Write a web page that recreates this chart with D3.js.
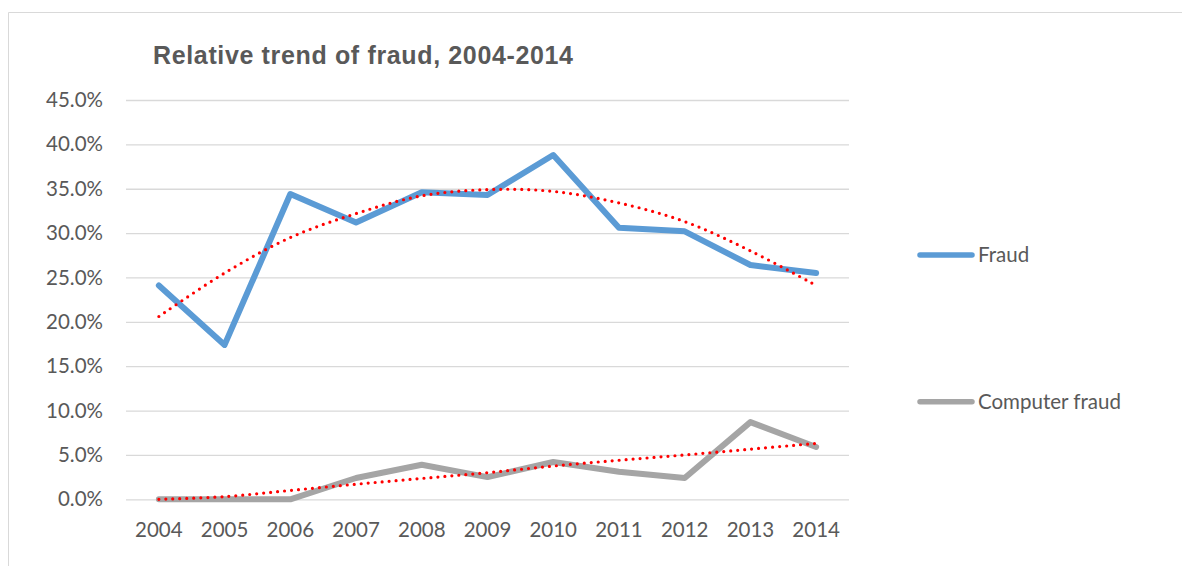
<!DOCTYPE html>
<html>
<head>
<meta charset="utf-8">
<script src="https://cdn.jsdelivr.net/npm/d3@7"></script>
<style>
  body { margin: 0; background: #fff; }
  svg { display: block; }
</style>
</head>
<body>
<div id="chart"></div>
<script>
var years = ["2004", "2005", "2006", "2007", "2008", "2009", "2010", "2011", "2012", "2013", "2014"];
var fraud = [24.1, 17.4, 34.4, 31.2, 34.6, 34.3, 38.8, 30.6, 30.2, 26.4, 25.5];
var computerFraud = [0, 0, 0, 2.4, 3.9, 2.5, 4.2, 3.1, 2.4, 8.7, 5.9];
// dotted trend lines at each year
var fraudTrend = [20.6, 25.5, 29.5, 32.2, 34.2, 34.9, 34.7, 33.4, 31.3, 28.0, 24.1];
var computerTrend = [0.0, 0.3, 1.0, 1.7, 2.35, 3.0, 3.75, 4.4, 5.0, 5.65, 6.3];
var yTicks = [0, 5, 10, 15, 20, 25, 30, 35, 40, 45];
var seriesNames = ["Fraud", "Computer fraud"];

var W = 1182, H = 566;
var labelFont = "Lato, 'Open Sans', sans-serif";

var svg = d3.select("#chart").append("svg").attr("width", W).attr("height", H);

// chart frame (runs off the right and bottom of the shot)
svg.append("path")
    .attr("d", "M8.5," + H + "V12.5H" + W)
    .attr("fill", "none")
    .attr("stroke", "#d9d9d9")
    .attr("stroke-width", 1);

svg.append("text")
    .attr("x", 153)
    .attr("y", 64)
    .attr("font-family", "'Liberation Sans', Arial, sans-serif")
    .attr("font-weight", "bold")
    .attr("font-size", 25)
    .attr("textLength", 420)
    .attr("lengthAdjust", "spacing")
    .attr("fill", "#595959")
    .text("Relative trend of fraud, 2004-2014");

var x = d3.scaleBand().domain(years).range([126, 849]).padding(0);
var y = d3.scaleLinear().domain([0, 45]).range([499.3, 100]);
var cx = function (d, i) { return x(years[i]) + x.bandwidth() / 2; };

// gridlines + y labels
var yAxis = svg.append("g")
    .attr("transform", "translate(126,0)")
    .call(d3.axisLeft(y).tickValues(yTicks).tickSize(-723).tickPadding(23)
        .tickFormat(function (d) { return d.toFixed(1) + "%"; }));
yAxis.select(".domain").remove();
yAxis.selectAll(".tick line").attr("stroke", "#d9d9d9").attr("stroke-width", 1.3);
yAxis.selectAll(".tick text")
    .attr("font-family", labelFont)
    .attr("font-size", 20.5)
    .attr("fill", "#595959");

// x labels
var xAxis = svg.append("g")
    .attr("transform", "translate(0,499.3)")
    .call(d3.axisBottom(x).tickSize(0).tickPadding(23));
xAxis.select(".domain").remove();
xAxis.selectAll(".tick text")
    .attr("font-family", labelFont)
    .attr("font-size", 20.5)
    .attr("fill", "#595959");

var line = d3.line().x(cx).y(function (d) { return y(d); });
var trendLine = d3.line().x(cx).y(function (d) { return y(d); }).curve(d3.curveCatmullRom);

var colors = ["#5b9bd5", "#a5a5a5"];
[fraud, computerFraud].forEach(function (s, k) {
    svg.append("path")
        .attr("d", line(s))
        .attr("fill", "none")
        .attr("stroke", colors[k])
        .attr("stroke-width", 6)
        .attr("stroke-linejoin", "round")
        .attr("stroke-linecap", "round");
});

[fraudTrend, computerTrend].forEach(function (s) {
    svg.append("path")
        .attr("d", trendLine(s))
        .attr("fill", "none")
        .attr("stroke", "#ff0000")
        .attr("stroke-width", 3.2)
        .attr("stroke-linecap", "round")
        .attr("stroke-dasharray", "0,7");
});

// legend
var legendY = [255, 401.7];
var legend = svg.selectAll(".legend").data(seriesNames).enter().append("g")
    .attr("transform", function (d, i) { return "translate(0," + legendY[i] + ")"; });
legend.append("line")
    .attr("x1", 920).attr("x2", 972)
    .attr("stroke", function (d, i) { return colors[i]; })
    .attr("stroke-width", 5.5)
    .attr("stroke-linecap", "round");
legend.append("text")
    .attr("x", 978)
    .attr("dy", "0.35em")
    .attr("font-family", labelFont)
    .attr("font-size", 20.5)
    .attr("fill", "#595959")
    .text(function (d) { return d; });
</script>
</body>
</html>
